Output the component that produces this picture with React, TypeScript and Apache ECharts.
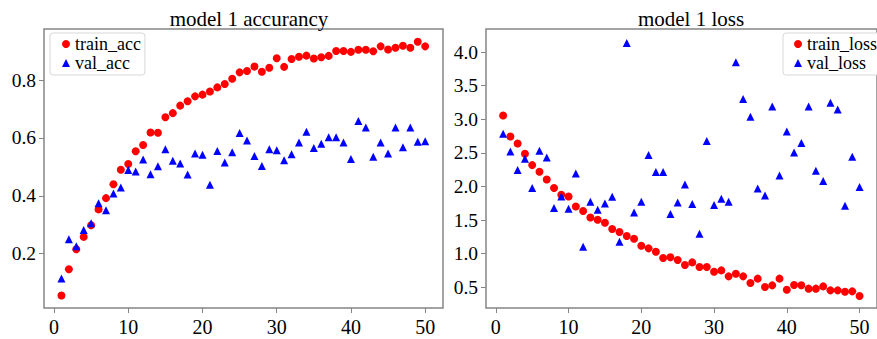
import React, { useEffect, useRef } from "react";
import * as echarts from "echarts";

const epochs = [
  1, 2, 3, 4, 5, 6, 7, 8, 9, 10, 11, 12, 13, 14, 15, 16, 17, 18, 19, 20, 21, 22, 23, 24, 25,
  26, 27, 28, 29, 30, 31, 32, 33, 34, 35, 36, 37, 38, 39, 40, 41, 42, 43, 44, 45, 46, 47, 48, 49, 50,
];

const trainAcc = [
  0.055, 0.146, 0.215, 0.258, 0.298, 0.353, 0.392, 0.44, 0.49, 0.51,
  0.554, 0.576, 0.619, 0.618, 0.672, 0.686, 0.712, 0.727, 0.744, 0.75,
  0.761, 0.775, 0.787, 0.805, 0.827, 0.832, 0.847, 0.829, 0.843, 0.876,
  0.846, 0.873, 0.881, 0.885, 0.875, 0.879, 0.884, 0.901, 0.901, 0.898,
  0.905, 0.905, 0.9, 0.917, 0.906, 0.912, 0.919, 0.912, 0.933, 0.917,
];

const valAcc = [
  0.114, 0.25, 0.226, 0.282, 0.305, 0.374, 0.35, 0.408, 0.429, 0.489,
  0.484, 0.526, 0.475, 0.502, 0.561, 0.521, 0.512, 0.474, 0.546, 0.542,
  0.438, 0.555, 0.515, 0.551, 0.617, 0.591, 0.538, 0.503, 0.561, 0.558,
  0.523, 0.544, 0.584, 0.622, 0.565, 0.58, 0.603, 0.603, 0.584, 0.527,
  0.659, 0.636, 0.535, 0.584, 0.546, 0.636, 0.568, 0.636, 0.587, 0.589,
];

const trainLoss = [
  3.057, 2.744, 2.64, 2.487, 2.318, 2.219, 2.104, 1.976, 1.876, 1.851,
  1.702, 1.634, 1.539, 1.504, 1.46, 1.366, 1.321, 1.262, 1.222, 1.118,
  1.078, 1.028, 0.934, 0.945, 0.905, 0.83, 0.869, 0.8, 0.8, 0.731,
  0.75, 0.661, 0.701, 0.661, 0.562, 0.627, 0.503, 0.527, 0.627, 0.463,
  0.533, 0.528, 0.478, 0.478, 0.512, 0.453, 0.453, 0.433, 0.438, 0.369,
];

const valLoss = [
  2.784, 2.521, 2.244, 2.412, 1.976, 2.531, 2.432, 1.679, 1.851, 1.668,
  2.193, 1.103, 1.772, 1.653, 1.747, 1.847, 1.177, 4.138, 1.613, 1.772,
  2.467, 2.214, 2.214, 1.589, 1.762, 2.03, 1.738, 1.296, 2.676, 1.723,
  1.817, 1.772, 3.851, 3.301, 3.037, 1.97, 1.866, 3.191, 2.164, 2.819,
  2.506, 2.646, 3.191, 2.234, 2.08, 3.246, 3.146, 1.713, 2.442, 1.991,
];

const xTicks = [0, 10, 20, 30, 40, 50];
const accTicks = [0.2, 0.4, 0.6, 0.8];
const lossTicks = [0.5, 1.0, 1.5, 2.0, 2.5, 3.0, 3.5, 4.0];

const titles = ["model 1 accurancy", "model 1 loss"];

const FONT = "Liberation Serif";
const FRAME = "#858585";

export default function App() {
  const ref = useRef<HTMLDivElement>(null);

  useEffect(() => {
    const chart = echarts.init(ref.current!, null, { renderer: "svg" });
    const pairs = (ys: number[]) => epochs.map((e, i) => [e, ys[i]]);

    const xAxisBase = (gridIndex: number) => ({
      type: "value" as const,
      gridIndex,
      min: -1.35,
      max: 52.4,
      position: "bottom" as const,
      axisLine: { show: false, onZero: false },
      axisTick: {
        show: true,
        length: 5,
        inside: false,
        customValues: xTicks,
        lineStyle: { color: FRAME, width: 1 },
      },
      axisLabel: {
        customValues: xTicks,
        margin: 9,
        color: "#000",
        fontFamily: FONT,
        fontWeight: "normal",
        fontStyle: "normal",
        fontSize: 20,
        formatter: (v: number) => String(v),
      },
      splitLine: { show: false },
    });

    const yAxisBase = (gridIndex: number, min: number, max: number, ticks: number[]) => ({
      type: "value" as const,
      gridIndex,
      min,
      max,
      axisLine: { show: false, onZero: false },
      axisTick: {
        show: true,
        length: 5,
        inside: false,
        customValues: ticks,
        lineStyle: { color: FRAME, width: 1 },
      },
      axisLabel: {
        customValues: ticks,
        margin: 8,
        color: "#000",
        fontFamily: FONT,
        fontWeight: "normal",
        fontStyle: "normal",
        fontSize: 19.5,
        formatter: (v: number) => v.toFixed(1),
      },
      splitLine: { show: false },
    });

    const legendText = {
      color: "#000",
      fontFamily: FONT,
      fontWeight: "normal",
      fontStyle: "normal",
      fontSize: 18,
      lineHeight: 17,
    };

    chart.setOption({
      animation: false,
      backgroundColor: "#fff",
      textStyle: { fontFamily: FONT, fontWeight: "normal" },
      title: [
        {
          text: titles[0],
          left: 244,
          top: 3,
          textAlign: "center",
          textStyle: { fontFamily: FONT, fontSize: 21, fontWeight: "normal", color: "#000" },
        },
        {
          text: titles[1],
          left: 686,
          top: 3,
          textAlign: "center",
          textStyle: { fontFamily: FONT, fontSize: 21, fontWeight: "normal", color: "#000" },
        },
      ],
      legend: [
        {
          orient: "vertical",
          left: 50,
          top: 33,
          padding: [2, 4, 3, 12],
          itemGap: 1,
          itemWidth: 8,
          itemHeight: 8,
          backgroundColor: "#fff",
          borderColor: "#d8d8d8",
          borderWidth: 1,
          borderRadius: 3,
          textStyle: legendText,
          data: [
            { name: "train_acc", icon: "circle" },
            { name: "val_acc", icon: "triangle" },
          ],
        },
        {
          orient: "vertical",
          left: 783,
          top: 33,
          padding: [2, 8, 3, 11],
          itemGap: 1,
          itemWidth: 8,
          itemHeight: 8,
          backgroundColor: "#fff",
          borderColor: "#d8d8d8",
          borderWidth: 1,
          borderRadius: 3,
          textStyle: legendText,
          data: [
            { name: "train_loss", icon: "circle" },
            { name: "val_loss", icon: "triangle" },
          ],
        },
      ],
      grid: [
        { left: 44, top: 29, width: 399, height: 279, show: true, borderColor: FRAME, borderWidth: 1.5, backgroundColor: "transparent" },
        { left: 486, top: 29, width: 398, height: 279, show: true, borderColor: FRAME, borderWidth: 1.5, backgroundColor: "transparent" },
      ],
      xAxis: [xAxisBase(0), xAxisBase(1)],
      yAxis: [yAxisBase(0, 0.012, 0.977, accTicks), yAxisBase(1, 0.19, 4.345, lossTicks)],
      series: [
        {
          name: "train_acc",
          type: "scatter",
          xAxisIndex: 0,
          yAxisIndex: 0,
          symbol: "circle",
          symbolSize: 8,
          itemStyle: { color: "#ff0000", opacity: 1 },
          data: pairs(trainAcc),
        },
        {
          name: "val_acc",
          type: "scatter",
          xAxisIndex: 0,
          yAxisIndex: 0,
          symbol: "triangle",
          symbolSize: 8,
          itemStyle: { color: "#0000ff", opacity: 1 },
          data: pairs(valAcc),
        },
        {
          name: "train_loss",
          type: "scatter",
          xAxisIndex: 1,
          yAxisIndex: 1,
          symbol: "circle",
          symbolSize: 8,
          itemStyle: { color: "#ff0000", opacity: 1 },
          data: pairs(trainLoss),
        },
        {
          name: "val_loss",
          type: "scatter",
          xAxisIndex: 1,
          yAxisIndex: 1,
          symbol: "triangle",
          symbolSize: 8,
          itemStyle: { color: "#0000ff", opacity: 1 },
          data: pairs(valLoss),
        },
      ],
    });

    return () => chart.dispose();
  }, []);

  return (
    <div
      ref={ref}
      style={{ position: "absolute", left: 0, top: 0, width: 877, height: 339 }}
    />
  );
}
